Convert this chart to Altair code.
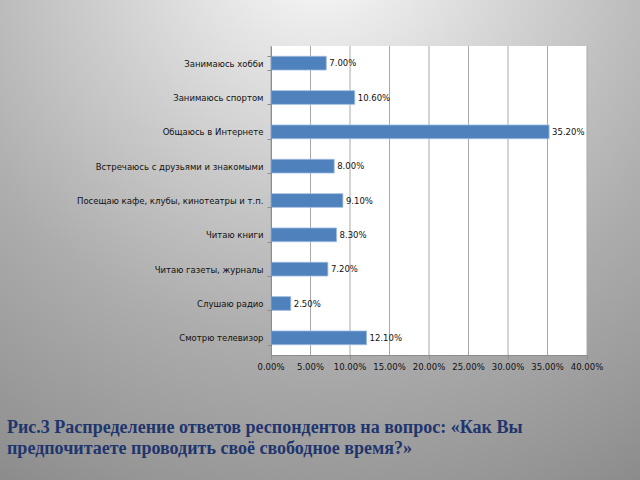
import altair as alt
import pandas as pd

categories = [
    "Занимаюсь хобби",
    "Занимаюсь спортом",
    "Общаюсь в Интернете",
    "Встречаюсь с друзьями и знакомыми",
    "Посещаю кафе, клубы, кинотеатры и т.п.",
    "Читаю книги",
    "Читаю газеты, журналы",
    "Слушаю радио",
    "Смотрю телевизор",
]
values_pct = [7.00, 10.60, 35.20, 8.00, 9.10, 8.30, 7.20, 2.50, 12.10]
x_ticks = [0.0, 0.05, 0.10, 0.15, 0.20, 0.25, 0.30, 0.35, 0.40]
title_lines = [
    "Рис.3 Распределение ответов респондентов на вопрос: «Как Вы",
    "предпочитаете проводить своё свободное время?»",
]

df = pd.DataFrame({
    "cat": categories,
    "val": [v / 100 for v in values_pct],
    "label": [f"{v:.2f}%" for v in values_pct],
})
ticks_df = pd.DataFrame({"t": x_ticks})
one = pd.DataFrame({"a": [0]})

W, H = 316, 309
PAD_L, PAD_T = 271, 46
PAD_R, PAD_B = 640 - PAD_L - W, 480 - PAD_T - H

FONT = "DejaVu Sans"
x_scale = alt.Scale(domain=[0, 0.4], nice=False, zero=True)
y_scale = alt.Scale(paddingInner=0.6, paddingOuter=0.3)

bg = alt.Chart(one).mark_rect(
    color=alt.Gradient(
        gradient="radial",
        stops=[
            alt.GradientStop(offset=0.0, color="#ffffff"),
            alt.GradientStop(offset=0.12, color="#ececec"),
            alt.GradientStop(offset=0.35, color="#cdcdcd"),
            alt.GradientStop(offset=0.6, color="#adadad"),
            alt.GradientStop(offset=0.85, color="#959595"),
            alt.GradientStop(offset=1.0, color="#848484"),
        ],
        x1=0.5, y1=0.03, r1=0,
        x2=0.5, y2=0.03, r2=1.05,
    )
).encode(
    x=alt.value(-PAD_L), x2=alt.value(640 - PAD_L),
    y=alt.value(-PAD_T), y2=alt.value(480 - PAD_T),
)

plot_bg = alt.Chart(one).mark_rect(color="white").encode(
    x=alt.value(0), x2=alt.value(W), y=alt.value(0), y2=alt.value(H)
)

grid = alt.Chart(ticks_df).mark_rule(color="#a8a8a8", strokeWidth=1).encode(
    x=alt.X("t:Q", scale=x_scale, title=None)
)

tick_labels = alt.Chart(ticks_df).mark_text(
    baseline="top", align="center", font=FONT, fontSize=8.5, color="#111111"
).encode(
    x=alt.X("t:Q", scale=x_scale),
    y=alt.value(H + 8),
    text=alt.Text("t:Q", format=".2%"),
)

bars = alt.Chart(df).mark_bar(
    color="#4F81BD", stroke="#9dbbe0", strokeWidth=0.8
).encode(
    y=alt.Y("cat:N", sort=categories, scale=y_scale, title=None,
            axis=alt.Axis(
                tickBand="extent", tickSize=4, labelPadding=4,
                labelFont=FONT, labelFontSize=8.5, labelColor="#111111",
                domainColor="#8c8c8c", tickColor="#8c8c8c", labelLimit=300,
                zindex=1,
            )),
    x=alt.X("val:Q", scale=x_scale, title=None,
            axis=alt.Axis(values=x_ticks, labels=False, grid=False,
                          tickSize=4, domainColor="#8c8c8c",
                          tickColor="#8c8c8c", zindex=1, title=None)),
)

labels = alt.Chart(df).mark_text(
    align="left", baseline="middle", dx=3, font=FONT, fontSize=8.5,
    color="#111111",
).encode(
    y=alt.Y("cat:N", sort=categories, scale=y_scale),
    x=alt.X("val:Q", scale=x_scale),
    text="label:N",
)

title = alt.Chart(one).mark_text(
    text=title_lines, align="left", baseline="alphabetic",
    font="Liberation Serif", fontWeight="bold", fontSize=18,
    lineHeight=21, color="#1f356e",
).encode(x=alt.value(7 - PAD_L), y=alt.value(433 - PAD_T))

chart = alt.layer(bg, plot_bg, grid, bars, labels, tick_labels, title).properties(
    width=W, height=H,
    autosize=alt.AutoSizeParams(type="none"),
    padding={"left": PAD_L, "top": PAD_T, "right": PAD_R, "bottom": PAD_B},
).configure_view(stroke=None)

chart.save("out.html", embed_options={"renderer": "svg", "actions": False})
